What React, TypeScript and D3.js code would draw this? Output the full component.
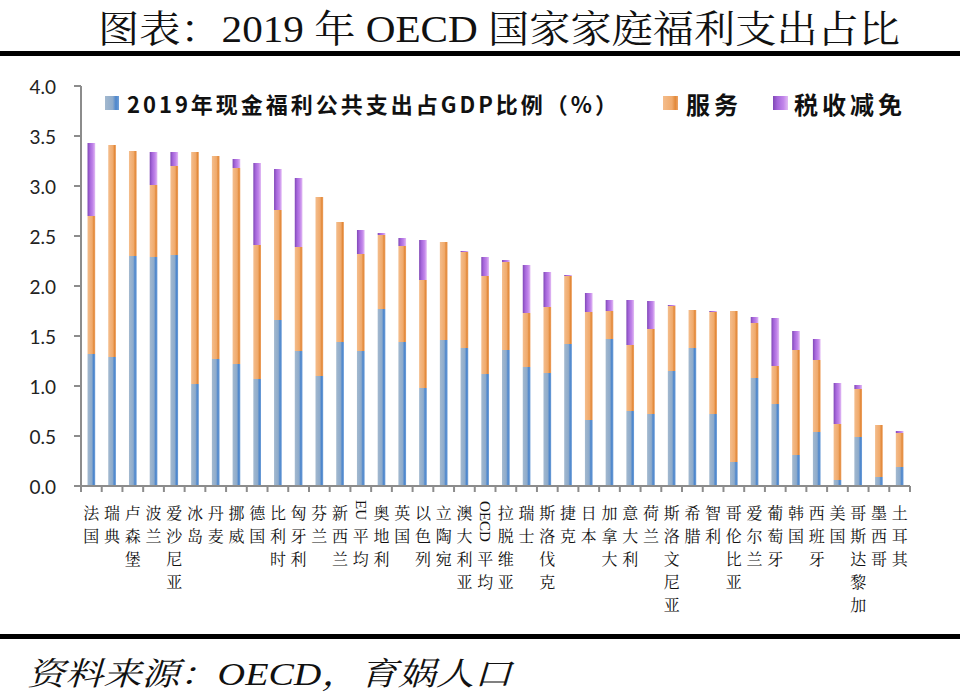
import React from "react";
import * as d3 from "d3";

const categories = ["法国","瑞典","卢森堡","波兰","爱沙尼亚","冰岛","丹麦","挪威","德国","比利时","匈牙利","芬兰","新西兰","EU平均","奥地利","英国","以色列","立陶宛","澳大利亚","OECD平均","拉脱维亚","瑞士","斯洛伐克","捷克","日本","加拿大","意大利","荷兰","斯洛文尼亚","希腊","智利","哥伦比亚","爱尔兰","葡萄牙","韩国","西班牙","美国","哥斯达黎加","墨西哥","土耳其"];

const cash = [1.32,1.29,2.30,2.29,2.31,1.02,1.27,1.22,1.07,1.66,1.35,1.10,1.44,1.35,1.77,1.44,0.98,1.46,1.38,1.12,1.36,1.19,1.13,1.42,0.66,1.47,0.75,0.72,1.15,1.38,0.72,0.24,1.08,0.82,0.31,0.54,0.06,0.49,0.09,0.19];
const services = [1.38,2.12,1.05,0.72,0.89,2.32,2.03,1.96,1.34,1.10,1.04,1.79,1.20,0.97,0.74,0.96,1.08,0.98,0.96,0.98,0.88,0.54,0.66,0.68,1.08,0.28,0.66,0.85,0.65,0.38,1.02,1.51,0.55,0.38,1.05,0.72,0.56,0.48,0.52,0.34];
const taxBreaks = [0.73,0,0,0.33,0.14,0,0,0.09,0.82,0.41,0.69,0,0,0.24,0.02,0.08,0.40,0,0.01,0.19,0.02,0.48,0.35,0.01,0.19,0.11,0.45,0.28,0.01,0,0.01,0,0.06,0.48,0.19,0.21,0.41,0.04,0,0.02];

const seriesNames = ["2019年现金福利公共支出占GDP比例（%）", "服务", "税收减免"];
const yTicks = [0, 0.5, 1.0, 1.5, 2.0, 2.5, 3.0, 3.5, 4.0];

const titleText = "图表：2019 年 OECD 国家家庭福利支出占比";
const sourceText = "资料来源：OECD，育娲人口";

const W = 960;
const H = 699;
const X0 = 81;
const X1 = 910;
const Y0 = 486;
const Y1 = 86;

const CJK_SERIF = "'Noto Serif CJK SC', 'Noto Sans CJK SC', serif";

export default function App() {
  const keys = ["cash", "services", "tax"];
  const table = categories.map((c, i) => ({ cat: c, cash: cash[i], services: services[i], tax: taxBreaks[i] }));
  const stacked = d3.stack<any>().keys(keys)(table);

  const x = d3.scaleBand().domain(categories).range([X0, X1]).padding(0);
  const y = d3.scaleLinear().domain([0, 4]).range([Y0, Y1]);
  const bw = x.bandwidth() * 0.37;

  const gradIds = ["gBlue", "gOrange", "gPurple"];

  const ROW = 23;
  const rowY = (r: number) => 512 + r * ROW;

  const labelNodes: any[] = [];
  categories.forEach((c, ci) => {
    const cx = (x(c) as number) + x.bandwidth() / 2;
    const m = c.match(/^([A-Za-z]+)(.*)$/);
    let startRow = 0;
    let rest = c;
    if (m) {
      const latin = m[1];
      const n = Math.ceil(latin.length / 2);
      const cy = (rowY(0) + rowY(n - 1)) / 2 - 2;
      labelNodes.push(
        <text key={`l${ci}`} transform={`translate(${cx},${cy}) rotate(90)`} textAnchor="middle" dominantBaseline="central"
          fontFamily="'Liberation Serif', serif" fontSize={15} fill="#111">{latin}</text>
      );
      startRow = n;
      rest = m[2];
    }
    const chars = Array.from(rest);
    labelNodes.push(
      <text key={`c${ci}`} textAnchor="middle" dominantBaseline="central" fontFamily={CJK_SERIF} fontSize={16} fill="#111">
        {chars.map((ch, k) => (
          <tspan key={k} x={cx} y={rowY(startRow + k)}>{ch}</tspan>
        ))}
      </text>
    );
  });

  return (
    <svg width={W} height={H} style={{ position: "absolute", left: 0, top: 0, display: "block", background: "#fff" }}>
      <defs>
        <linearGradient id="gBlue" x1="0" x2="1" y1="0" y2="0">
          <stop offset="0%" stopColor="#a3b9cf" />
          <stop offset="55%" stopColor="#8eabcb" />
          <stop offset="78%" stopColor="#4d86cc" />
          <stop offset="100%" stopColor="#6f9fd8" />
        </linearGradient>
        <linearGradient id="gOrange" x1="0" x2="1" y1="0" y2="0">
          <stop offset="0%" stopColor="#f4bd8c" />
          <stop offset="60%" stopColor="#f0aa6c" />
          <stop offset="82%" stopColor="#e2893a" />
          <stop offset="100%" stopColor="#eea466" />
        </linearGradient>
        <linearGradient id="gPurple" x1="0" x2="1" y1="0" y2="0">
          <stop offset="0%" stopColor="#8048b6" />
          <stop offset="30%" stopColor="#a566da" />
          <stop offset="70%" stopColor="#c286ea" />
          <stop offset="100%" stopColor="#e2bcf4" />
        </linearGradient>
      </defs>

      {/* Title */}
      <text x={98} y={42} fontFamily={`'Liberation Serif', ${CJK_SERIF}`} fontSize={38} fill="#111"
        textLength={802} lengthAdjust="spacingAndGlyphs">{titleText}</text>
      <rect x={0} y={51} width={W} height={5} fill="#000" />

      {/* Bars */}
      {stacked.map((s, si) => (
        <g key={si} fill={`url(#${gradIds[si]})`}>
          {s.map((d: any, i: number) => {
            const h = y(d[0]) - y(d[1]);
            if (h <= 0) return null;
            return (
              <rect key={i} x={(x(categories[i]) as number) + (x.bandwidth() - bw) / 2} y={y(d[1])} width={bw} height={h} />
            );
          })}
        </g>
      ))}

      {/* Y axis */}
      <line x1={X0} x2={X0} y1={Y1} y2={Y0} stroke="#8c8c8c" strokeWidth={2} />
      {yTicks.map((t) => (
        <g key={t}>
          <line x1={X0 - 7} x2={X0} y1={y(t)} y2={y(t)} stroke="#8c8c8c" strokeWidth={2} />
          <text x={56} y={y(t)} textAnchor="end" dominantBaseline="central" fontFamily="Lato, 'Open Sans', sans-serif"
            fontSize={19} fill="#222">{t.toFixed(1)}</text>
        </g>
      ))}

      {/* X axis */}
      <line x1={X0} x2={X1} y1={Y0} y2={Y0} stroke="#8c8c8c" strokeWidth={2} />
      {categories.map((c) => (
        <line key={c} x1={(x(c) as number) + x.bandwidth()} x2={(x(c) as number) + x.bandwidth()} y1={Y0} y2={Y0 + 6}
          stroke="#8c8c8c" strokeWidth={2} />
      ))}
      <line x1={X0} x2={X0} y1={Y0} y2={Y0 + 6} stroke="#8c8c8c" strokeWidth={2} />
      {labelNodes}

      {/* Legend */}
      <rect x={105} y={96} width={14} height={14} fill="url(#gBlue)" />
      <text x={127} y={103} dominantBaseline="central" fontFamily="'Noto Sans CJK SC', sans-serif" fontWeight="bold"
        fontSize={22} fill="#111" textLength={490} lengthAdjust="spacing">{seriesNames[0]}</text>
      <rect x={663} y={96} width={15} height={14} fill="url(#gOrange)" />
      <text x={686} y={103} dominantBaseline="central" fontFamily="'Noto Sans CJK SC', sans-serif" fontWeight="bold"
        fontSize={24} fill="#111" textLength={52} lengthAdjust="spacing">{seriesNames[1]}</text>
      <rect x={773} y={96} width={15} height={14} fill="url(#gPurple)" />
      <text x={794} y={103} dominantBaseline="central" fontFamily="'Noto Sans CJK SC', sans-serif" fontWeight="bold"
        fontSize={24} fill="#111" textLength={108} lengthAdjust="spacing">{seriesNames[2]}</text>

      {/* Footer */}
      <rect x={0} y={634} width={W} height={5} fill="#000" />
      <text x={27} y={685} fontFamily={`'Liberation Serif', ${CJK_SERIF}`} fontStyle="italic" fontSize={32} fill="#111"
        textLength={485} lengthAdjust="spacingAndGlyphs">{sourceText}</text>
    </svg>
  );
}
